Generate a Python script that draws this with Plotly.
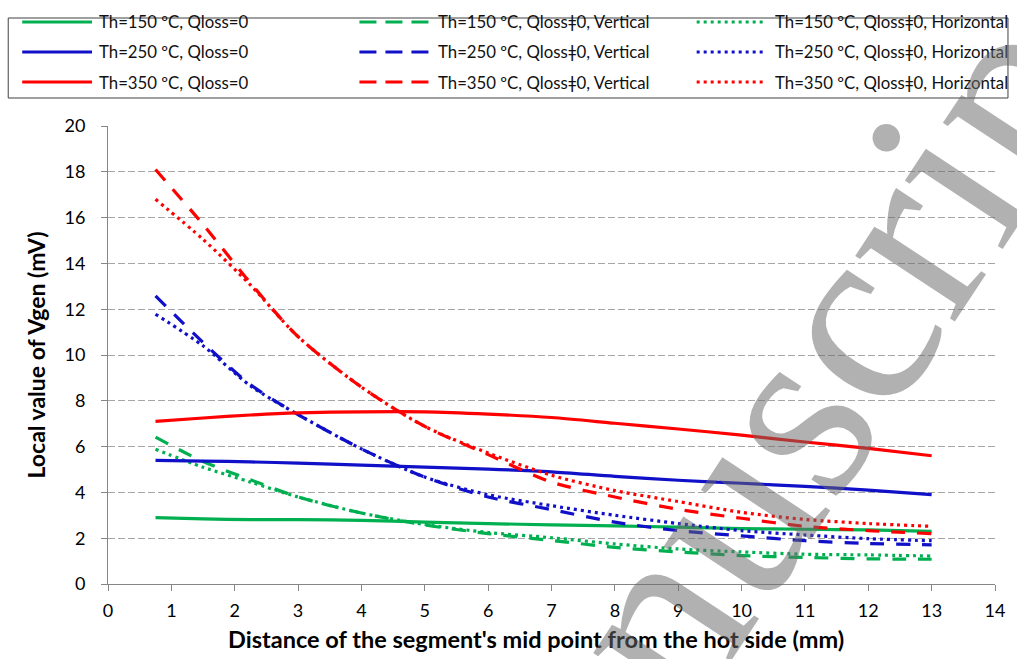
import plotly.graph_objects as go

# Distance of each segment's mid point from the hot side (mm)
x_mm = [0.75, 1.5, 2.25, 3, 4, 5, 6, 7, 8, 9, 10, 11, 12, 13]

# Local generated voltage (mV), no heat loss
v150_q0 = [2.90, 2.84, 2.81, 2.81, 2.78, 2.70, 2.64, 2.58, 2.54, 2.48, 2.42, 2.39, 2.36, 2.30]
v250_q0 = [5.40, 5.37, 5.33, 5.28, 5.19, 5.10, 5.02, 4.90, 4.70, 4.53, 4.40, 4.26, 4.10, 3.90]
v350_q0 = [7.10, 7.25, 7.38, 7.47, 7.52, 7.52, 7.42, 7.27, 7.02, 6.77, 6.50, 6.20, 5.92, 5.60]

# Heat loss, vertical orientation
v150_vert = [6.41, 5.35, 4.55, 3.80, 3.10, 2.58, 2.20, 1.90, 1.60, 1.40, 1.24, 1.16, 1.10, 1.08]
v250_vert = [12.58, 10.55, 8.70, 7.40, 5.90, 4.67, 3.80, 3.25, 2.70, 2.33, 2.10, 1.89, 1.77, 1.71]
v350_vert = [18.10, 15.70, 13.14, 10.80, 8.60, 6.88, 5.65, 4.45, 3.80, 3.26, 2.87, 2.52, 2.33, 2.20]

# Heat loss, horizontal orientation
v150_horz = [5.88, 5.10, 4.45, 3.80, 3.10, 2.60, 2.25, 2.02, 1.75, 1.53, 1.40, 1.30, 1.27, 1.22]
v250_horz = [11.78, 10.40, 8.65, 7.40, 5.90, 4.67, 3.90, 3.42, 3.00, 2.64, 2.33, 2.14, 1.98, 1.89]
v350_horz = [16.80, 15.05, 13.05, 10.80, 8.60, 6.88, 5.72, 4.75, 4.08, 3.60, 3.13, 2.82, 2.64, 2.52]

y_ticks = list(range(0, 21, 2))
x_ticks = list(range(0, 15))

GREEN = "#00B050"
BLUE = "#1010C8"
RED = "#FF0000"
DASH = "14px,12px"
DOT = "3px,4px"
FONT = "Lato"

series = [
    ("Th=150 ºC, Qloss=0", v150_q0, GREEN, "solid"),
    ("Th=150 ºC, Qlossǂ0, Vertical", v150_vert, GREEN, DASH),
    ("Th=150 ºC, Qlossǂ0, Horizontal", v150_horz, GREEN, DOT),
    ("Th=250 ºC, Qloss=0", v250_q0, BLUE, "solid"),
    ("Th=250 ºC, Qlossǂ0, Vertical", v250_vert, BLUE, DASH),
    ("Th=250 ºC, Qlossǂ0, Horizontal", v250_horz, BLUE, DOT),
    ("Th=350 ºC, Qloss=0", v350_q0, RED, "solid"),
    ("Th=350 ºC, Qlossǂ0, Vertical", v350_vert, RED, DASH),
    ("Th=350 ºC, Qlossǂ0, Horizontal", v350_horz, RED, DOT),
]

W, H = 1017, 659
ML, MR, MT, MB = 108, 20, 126, 75
PW, PH = W - ML - MR, H - MT - MB


def px(xp):
    return (xp - ML) / PW


def py(yp):
    return (H - MB - yp) / PH


fig = go.Figure()
for name, vals, color, dash in series:
    fig.add_trace(go.Scatter(
        x=x_mm, y=vals, name=name, mode="lines",
        line=dict(color=color, width=3.2, dash=dash, shape="spline", smoothing=0.8),
        showlegend=False,
    ))

# Legend box drawn as shapes and text, three columns by three rows
shapes = [dict(type="rect", xref="paper", yref="paper",
               x0=px(8), x1=px(1010), y0=py(98), y1=py(18),
               line=dict(color="#404040", width=1), fillcolor="white", layer="above")]
annotations = []
col_line = [(22, 92), (360, 430), (698, 765)]
col_text = [97, 437, 775]
row_y = [22, 52, 82]
legend_dash = {"solid": "solid", DASH: "17px,9px", DOT: DOT}
for i, (name, vals, color, dash) in enumerate(series):
    r, c = i // 3, i % 3
    shapes.append(dict(type="line", xref="paper", yref="paper",
                       x0=px(col_line[c][0]), x1=px(col_line[c][1]),
                       y0=py(row_y[r]), y1=py(row_y[r]),
                       line=dict(color=color, width=3, dash=legend_dash[dash]), layer="above"))
    annotations.append(dict(xref="paper", yref="paper", x=px(col_text[c]), y=py(row_y[r]),
                            text=name, showarrow=False, xanchor="left", yanchor="middle",
                            font=dict(family=FONT, size=16.8, color="#111111")))

# X axis title, centred on the chart area
annotations.append(dict(xref="paper", yref="paper", x=px(537), y=py(639),
                        text="<b>Distance of the segment's mid point from the hot side (mm)</b>",
                        showarrow=False, xanchor="center", yanchor="middle",
                        font=dict(family=FONT, size=23.5, color="black")))

# Journal watermark across the plot
annotations.append(dict(xref="paper", yref="paper", x=px(753), y=py(470),
                        text="Manuscript", showarrow=False, textangle=-56.6,
                        xanchor="center", yanchor="middle",
                        font=dict(family="Liberation Serif", size=260, color="rgba(105,105,105,0.52)")))

fig.update_layout(
    width=W, height=H,
    margin=dict(l=ML, r=MR, t=MT, b=MB),
    paper_bgcolor="white", plot_bgcolor="white",
    font=dict(family=FONT, color="black"),
    shapes=shapes, annotations=annotations,
)
fig.update_xaxes(
    range=[0, 14], tickvals=x_ticks, ticks="outside", ticklen=6, tickcolor="#868686",
    showline=True, linecolor="#868686", linewidth=1, showgrid=False, zeroline=False,
    tickfont=dict(family=FONT, size=18, color="black"), ticklabelstandoff=4,
)
fig.update_yaxes(
    range=[0, 20], tickvals=y_ticks, ticks="outside", ticklen=6, tickcolor="#868686",
    showline=True, linecolor="#868686", linewidth=1, zeroline=False,
    showgrid=True, gridcolor="#A6A6A6", gridwidth=1, griddash="7px,3px",
    tickfont=dict(family=FONT, size=18, color="black"), ticklabelstandoff=12,
    title=dict(text="<b>Local value of Vgen (mV)</b>",
               font=dict(family=FONT, size=23, color="black"), standoff=12),
)

fig.write_html("out.html")
